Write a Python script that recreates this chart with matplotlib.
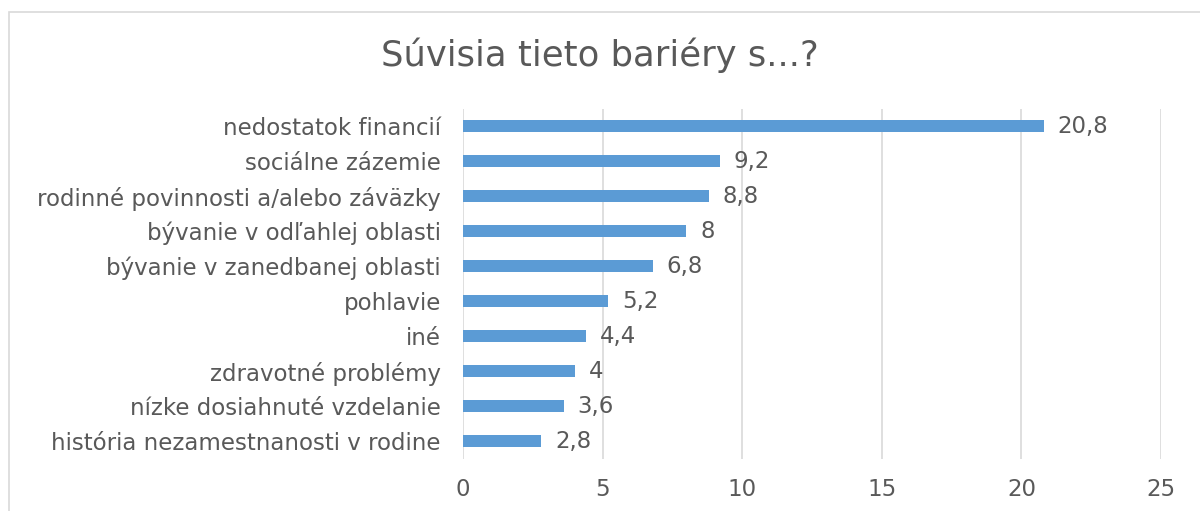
import matplotlib.pyplot as plt
from matplotlib.patches import Rectangle

plt.rcParams['font.family'] = ['DejaVu Sans']

categories = ["nedostatok financií", "sociálne zázemie",
              "rodinné povinnosti a/alebo záväzky", "bývanie v odľahlej oblasti",
              "bývanie v zanedbanej oblasti", "pohlavie", "iné",
              "zdravotné problémy", "nízke dosiahnuté vzdelanie",
              "história nezamestnanosti v rodine"]
values = [20.8, 9.2, 8.8, 8, 6.8, 5.2, 4.4, 4, 3.6, 2.8]
xticks = [0, 5, 10, 15, 20, 25]

text_col = "#595959"
bar_col = "#5B9BD5"
grid_col = "#D9D9D9"

fig = plt.figure(figsize=(12, 5.11), dpi=100)
fig.patches.append(Rectangle((9 / 1200, -0.1), 1.2, 1 - 12 / 511 + 0.1,
                             transform=fig.transFigure, fill=False,
                             edgecolor=grid_col, linewidth=1.2))

ax = fig.add_axes([463 / 1200, 1 - 458.5 / 511, (1161 - 463) / 1200, 350 / 511])
pos = list(range(len(categories)))
ax.barh(pos, values, height=0.36, color=bar_col, zorder=3)
ax.set_ylim(len(categories) - 0.5, -0.5)
ax.set_xlim(0, 25)
ax.set_yticks(pos)
ax.set_yticklabels(categories, fontsize=16.5, color=text_col)
ax.set_xticks(xticks)
ax.set_xticklabels([str(t) for t in xticks], fontsize=16.5, color=text_col)
ax.tick_params(axis='both', length=0)
ax.tick_params(axis='y', pad=16)
ax.tick_params(axis='x', pad=14)
ax.grid(axis='x', color=grid_col, linewidth=1.2, zorder=0)
for s in ax.spines.values():
    s.set_visible(False)

for p, v in zip(pos, values):
    lab = f"{v:g}".replace(".", ",")
    ax.annotate(lab, (v, p), xytext=(10, 0), textcoords='offset points',
                va='center', ha='left', fontsize=16.5, color=text_col)

fig.text(0.5, 1 - 55 / 511, "Súvisia tieto bariéry s...?", ha='center', va='center',
         fontsize=25.5, color=text_col)

fig.savefig("out.png", dpi=100)
